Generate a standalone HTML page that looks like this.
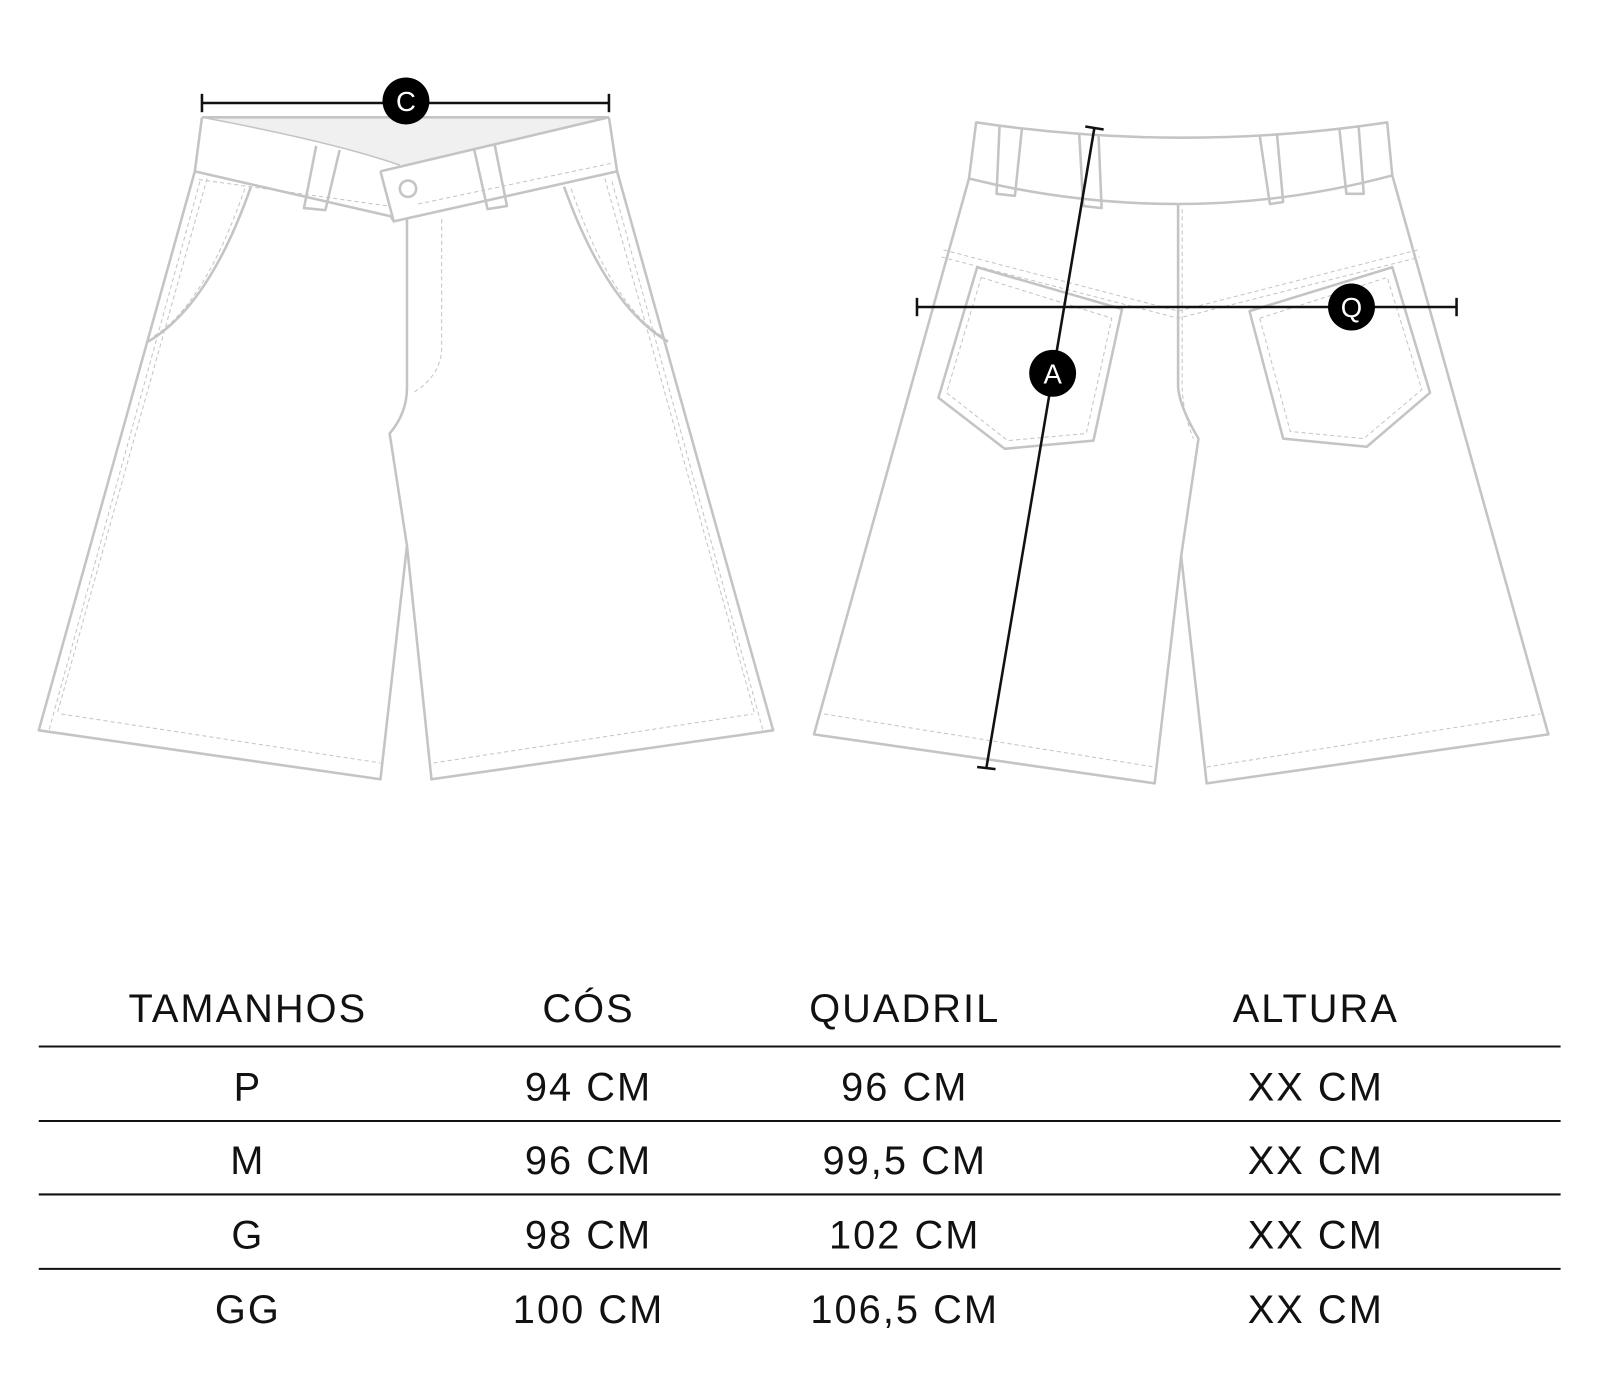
<!DOCTYPE html>
<html><head><meta charset="utf-8"><style>
html,body{margin:0;padding:0;background:#fff;}
body{width:1600px;height:1400px;position:relative;overflow:hidden;font-family:"Liberation Sans",sans-serif;}
svg{position:absolute;left:0;top:0;}
</style></head><body>
<svg width="1600" height="1400" viewBox="0 0 1600 1400">
<g transform="scale(1.02)">
<g fill="none" stroke="#c4c4c4" stroke-width="2.5" stroke-linejoin="round">
<!-- FRONT -->
<path d="M198,115 Q330,140 392,162 L597,115 Z" fill="#f0f0f0" stroke="none"/>
<path d="M198,115 Q330,140 392,162" stroke-width="1.5"/>
<path d="M198,115 L597,115"/>
<path d="M198,115 L191,168 L383,212 L386,217 L605,168 L597,115"/>
<path d="M191,168 L38,716 L373,764 L399,535 L382,425 Q399,405 399,380 L399,215"/>
<path d="M605,168 L758,716 L423,764 L399,535"/>
<path d="M373,168 L597,115 M373,168 L386,217"/>
<path d="M310,143 L298,204 L319,206 L333,147"/>
<path d="M465,147 L478,205 L497,202 L485,142"/>
<path d="M246,183 Q205,300 145,335"/>
<path d="M553,183 Q595,300 655,335"/>
<circle cx="400" cy="185" r="8"/>
<g stroke-width="1" stroke-dasharray="4,3">
<path d="M196,178 L48,716 M203,175 L56,700"/>
<path d="M600,178 L748,716 M593,175 L740,700"/>
<path d="M60,700 L373,748 M425,748 L738,700"/>
<path d="M433,215 L433,345 Q430,370 405,385"/>
<path d="M195,176 L381,202 M410,200 L600,160"/>
<path d="M240,185 Q200,300 150,330 M560,185 Q600,300 650,330"/>
</g>
<!-- BACK -->
<path d="M957,120 Q1160,150 1360,120 L1365,172 Q1260,200 1155,200 Q1050,200 950,175 Z"/>
<path d="M950,175 L798,720 L1132,768 L1158,545 L1175,430 Q1157,400 1155,380 L1155,200"/>
<path d="M1365,172 L1518,720 L1183,768 L1158,545"/>
<path d="M980,123 L977,190 L995,192 L1002,125"/>
<path d="M1058,130 L1062,202 L1080,204 L1077,132"/>
<path d="M1235,133 L1245,200 L1258,198 L1252,132"/>
<path d="M1313,125 L1320,190 L1337,190 L1332,124"/>
<path d="M958,262 L1100,303 L1072,432 L985,440 L920,390 Z"/>
<path d="M1225,305 L1365,262 L1402,385 L1340,438 L1258,430 Z"/>
<g stroke-width="1" stroke-dasharray="4,3">
<path d="M925,245 L1155,305 L1390,245 M923,252 L1155,312 L1392,252"/>
<path d="M962,272 L1090,312 L1065,425 L988,432 L928,385 Z"/>
<path d="M1235,312 L1360,272 L1394,382 L1337,430 L1265,423 Z"/>
<path d="M1159,205 L1159,380 Q1160,405 1170,430"/>
<path d="M808,700 L1132,752 M1183,752 L1510,700"/>
</g>
</g>
<!-- measurement lines -->
<g stroke="#111" stroke-width="2.5">
<line x1="198" y1="101" x2="597" y2="101"/><line x1="198" y1="92" x2="198" y2="110"/><line x1="597" y1="92" x2="597" y2="110"/>
<line x1="899" y1="301" x2="1428" y2="301"/><line x1="899" y1="292" x2="899" y2="310"/><line x1="1428" y1="292" x2="1428" y2="310"/>
<line x1="1073" y1="125" x2="967" y2="753"/><line x1="1064" y1="124" x2="1082" y2="127"/><line x1="958" y1="752" x2="976" y2="754"/>
</g>
<g fill="#000"><circle cx="398" cy="99" r="23"/><circle cx="1325" cy="301" r="23"/><circle cx="1032" cy="366" r="23"/></g>
<g fill="#fff" font-size="27" text-anchor="middle" font-family="Liberation Sans,sans-serif">
<text x="398" y="109">C</text><text x="1325" y="311">Q</text><text x="1032" y="376">A</text></g>
<!-- table -->
<g stroke="#111" stroke-width="2"><line x1="38" y1="1026" x2="1530" y2="1026"/><line x1="38" y1="1099" x2="1530" y2="1099"/><line x1="38" y1="1171" x2="1530" y2="1171"/><line x1="38" y1="1244" x2="1530" y2="1244"/></g>
<g fill="#111" font-size="39" letter-spacing="2" text-anchor="middle" font-family="Liberation Sans,sans-serif">
<text x="243" y="1002">TAMANHOS</text><text x="577" y="1002">CÓS</text><text x="887" y="1002">QUADRIL</text><text x="1290" y="1002">ALTURA</text>
<text x="243" y="1079">P</text><text x="577" y="1079">94 CM</text><text x="887" y="1079">96 CM</text><text x="1290" y="1079">XX CM</text>
<text x="243" y="1151">M</text><text x="577" y="1151">96 CM</text><text x="887" y="1151">99,5 CM</text><text x="1290" y="1151">XX CM</text>
<text x="243" y="1224">G</text><text x="577" y="1224">98 CM</text><text x="887" y="1224">102 CM</text><text x="1290" y="1224">XX CM</text>
<text x="243" y="1297">GG</text><text x="577" y="1297">100 CM</text><text x="887" y="1297">106,5 CM</text><text x="1290" y="1297">XX CM</text>
</g>
</g>
</svg>
</body></html>
